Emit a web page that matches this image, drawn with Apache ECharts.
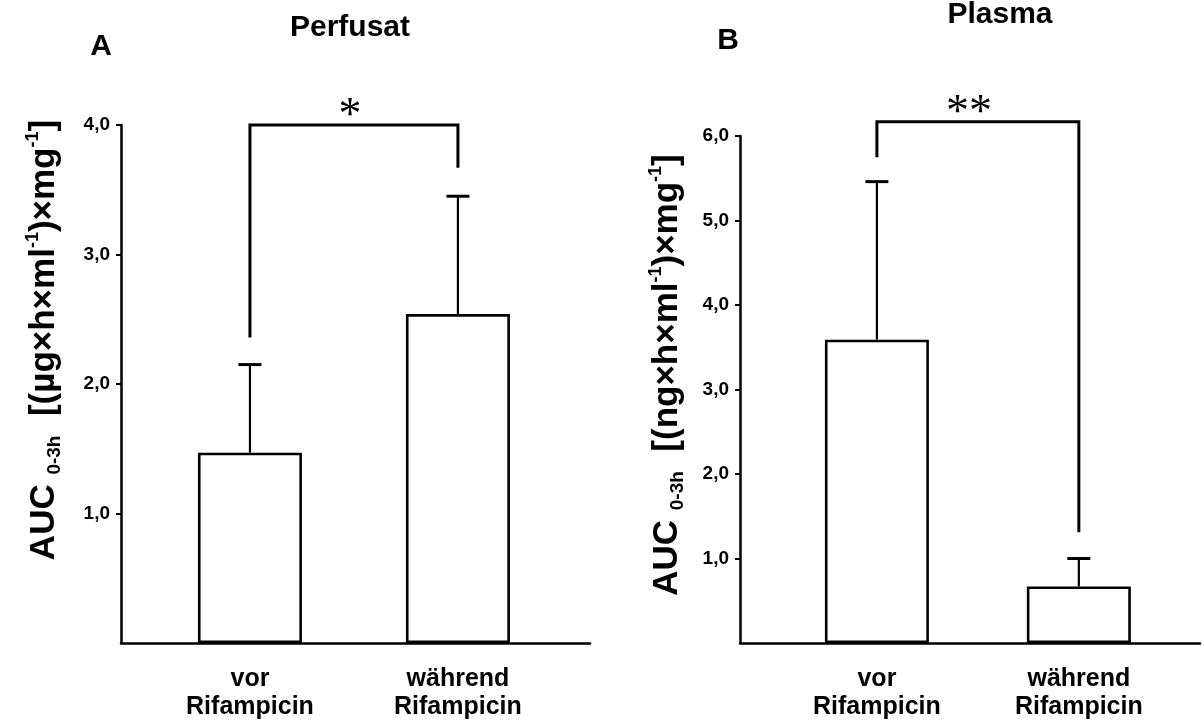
<!DOCTYPE html>
<html>
<head>
<meta charset="utf-8">
<script src="https://cdn.jsdelivr.net/npm/echarts@6/dist/echarts.min.js"></script>
<style>html,body{margin:0;padding:0;background:#fff}#c{width:1204px;height:726px}</style>
</head>
<body>
<div id="c"></div>
<script>
// ---- data ----
const categories = ['vor\nRifampicin', 'während\nRifampicin'];
const perfusatMean = [1.47, 2.54];
const perfusatSD = [0.68, 0.91];
const plasmaMean = [3.59, 0.67];
const plasmaSD = [1.87, 0.33];
const perfusatTicks = [1, 2, 3, 4];
const perfusatTickLabels = ['1,0', '2,0', '3,0', '4,0'];
const plasmaTicks = [1, 2, 3, 4, 5, 6];
const plasmaTickLabels = ['1,0', '2,0', '3,0', '4,0', '5,0', '6,0'];
// significance brackets: [level, left end, right end]
const perfusatBracket = [4.0, 2.36, 3.67];
const plasmaBracket = [6.17, 5.75, 1.31];
const perfusatSig = '*';
const plasmaSig = '**';

const chart = echarts.init(document.getElementById('c'));
const FAM = '"Liberation Sans", Arial, sans-serif';
const catPos = categories.map((_, i) => i + 1);

function xAxisDef(gi, min, max) {
  return {
    type: 'value', gridIndex: gi, min: min, max: max,
    splitLine: { show: false },
    axisLine: { show: true, lineStyle: { color: '#000', width: 2.5 } },
    axisTick: { show: false },
    axisLabel: {
      customValues: catPos,
      formatter: v => categories[Math.round(v) - 1] || '',
      color: '#000', fontFamily: FAM, fontWeight: 'bold', fontSize: 25,
      lineHeight: 28, margin: 22
    }
  };
}
function yAxisDef(gi, max, ticks, labels) {
  return {
    type: 'value', gridIndex: gi, min: 0, max: max,
    splitLine: { show: false },
    axisLine: { show: true, lineStyle: { color: '#000', width: 2.5 } },
    axisTick: { show: true, customValues: ticks, length: 5, lineStyle: { color: '#000', width: 2 } },
    axisLabel: {
      customValues: ticks,
      formatter: v => labels[ticks.indexOf(Math.round(v))] || '',
      color: '#000', fontFamily: FAM, fontWeight: 'bold', fontSize: 19, margin: 11
    }
  };
}
function barSeries(ai, means) {
  return {
    type: 'bar', xAxisIndex: ai, yAxisIndex: ai, barWidth: 104,
    data: means.map((m, i) => [catPos[i], m]),
    itemStyle: { color: '#fff', borderColor: '#000', borderWidth: 2.6 },
    z: 2
  };
}
function errSeries(ai, means, sds) {
  return {
    type: 'custom', xAxisIndex: ai, yAxisIndex: ai, z: 3,
    data: means.map((m, i) => [catPos[i], m, m + sds[i]]),
    encode: { x: 0, y: [1, 2] },
    renderItem: function (params, api) {
      const b = api.coord([api.value(0), api.value(1)]);
      const t = api.coord([api.value(0), api.value(2)]);
      const hw = 11.5;
      return {
        type: 'group', children: [
          { type: 'line', shape: { x1: b[0], y1: b[1], x2: t[0], y2: t[1] }, style: { stroke: '#000', lineWidth: 2.2 } },
          { type: 'line', shape: { x1: t[0] - hw, y1: t[1], x2: t[0] + hw, y2: t[1] }, style: { stroke: '#000', lineWidth: 3 } }
        ]
      };
    }
  };
}
function bracketSeries(ai, br, sig, dx) {
  return {
    type: 'custom', xAxisIndex: ai, yAxisIndex: ai, z: 4, clip: false,
    data: [[catPos[0], catPos[1], br[0], br[1], br[2]]],
    encode: { x: [0, 1], y: [2, 3, 4] },
    renderItem: function (params, api) {
      const x1 = api.value(0), x2 = api.value(1), lv = api.value(2);
      const a = api.coord([x1, api.value(3)]);
      const b = api.coord([x1, lv]);
      const c = api.coord([x2, lv]);
      const d = api.coord([x2, api.value(4)]);
      return {
        type: 'group', children: [
          { type: 'polyline', shape: { points: [a, b, c, d] }, style: { stroke: '#000', lineWidth: 3, fill: null } },
          { type: 'text', x: (b[0] + c[0]) / 2 + dx, y: b[1] - 8,
            style: { text: sig, fill: '#000', font: '46px "Liberation Serif", serif', align: 'center', verticalAlign: 'middle' } }
        ]
      };
    }
  };
}
function yName(x, y, unit) {
  return {
    type: 'text', x: x, y: y, rotation: Math.PI / 2,
    style: {
      text: '{b|AUC }{sub|0-3h}{b|  [(' + unit + '×h×ml}{sup|-1}{b|)×mg}{sup|-1}{b|]}',
      align: 'center', verticalAlign: 'middle', fill: '#000',
      rich: {
        b: { font: 'bold 35px ' + FAM, fill: '#000', lineHeight: 40 },
        sub: { font: 'bold 19px ' + FAM, verticalAlign: 'bottom', lineHeight: 22, fill: '#000' },
        sup: { font: 'bold 18px ' + FAM, verticalAlign: 'top', lineHeight: 20, fill: '#000' }
      }
    }
  };
}
function title(x, y, txt, size) {
  return { type: 'text', x: x, y: y, style: { text: txt, font: 'bold ' + size + 'px ' + FAM, fill: '#000', align: 'center', verticalAlign: 'middle' } };
}

chart.setOption({
  animation: false,
  backgroundColor: '#fff',
  grid: [
    { left: 121, top: 125, width: 469, height: 518 },
    { left: 740, top: 136, width: 460, height: 507 }
  ],
  xAxis: [xAxisDef(0, 0.38, 2.635), xAxisDef(1, 0.322, 2.6)],
  yAxis: [
    yAxisDef(0, 4, perfusatTicks, perfusatTickLabels),
    yAxisDef(1, 6, plasmaTicks, plasmaTickLabels)
  ],
  series: [
    barSeries(0, perfusatMean), errSeries(0, perfusatMean, perfusatSD), bracketSeries(0, perfusatBracket, perfusatSig, -4),
    barSeries(1, plasmaMean), errSeries(1, plasmaMean, plasmaSD), bracketSeries(1, plasmaBracket, plasmaSig, -9)
  ],
  graphic: [
    title(101, 47, 'A', 30), title(350, 28, 'Perfusat', 30),
    title(728, 41, 'B', 30), title(1000, 15, 'Plasma', 30),
    yName(44, 340, 'µg'), yName(667, 375, 'ng')
  ]
});
</script>
</body>
</html>
